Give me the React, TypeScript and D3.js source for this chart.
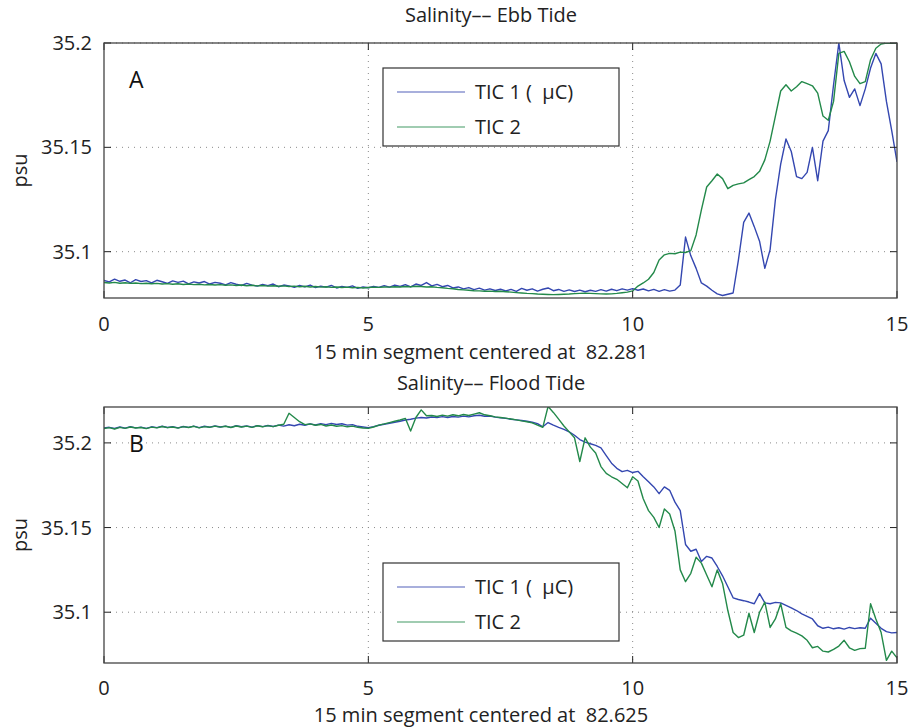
import React from "react";
import * as d3 from "d3";

// time grid (minutes), sampled every 0.1 min
const timeMin = d3.range(0, 15.0001, 0.1).map((v) => Math.round(v * 10) / 10);

const xTicks = [0, 5, 10, 15];
const yTicks = [35.1, 35.15, 35.2];
const seriesNames = ["TIC 1 (\u00A0\u00A0\u03BCC)", "TIC 2"];

// Panel A — Ebb tide
const ebbTic1 = [
  35.0862, 35.0855, 35.0868, 35.0858, 35.0864, 35.0851, 35.0866, 35.0857, 35.0861, 35.085,
  35.0863, 35.0856, 35.0848, 35.086, 35.0853, 35.0859, 35.0846, 35.0855, 35.085, 35.0857,
  35.0845, 35.0853, 35.0849, 35.0841, 35.0852, 35.0844, 35.0838, 35.0848, 35.084, 35.0835,
  35.0843, 35.0837, 35.0845, 35.0832, 35.084, 35.0836, 35.0829, 35.0838, 35.0831, 35.084,
  35.0828, 35.0835, 35.083, 35.0838, 35.0826, 35.0833, 35.0829, 35.0836, 35.0824, 35.0831,
  35.0827, 35.0834, 35.0829, 35.0837, 35.083, 35.084, 35.0833, 35.0842, 35.0831, 35.0845,
  35.0838, 35.0852, 35.0836, 35.0843, 35.0832, 35.0838, 35.0826, 35.0831, 35.0822, 35.0828,
  35.0818, 35.0825, 35.0816, 35.0822, 35.0814, 35.082, 35.0812, 35.0819, 35.081, 35.0824,
  35.0815, 35.0822, 35.0811, 35.082, 35.0826, 35.0813, 35.0819, 35.081, 35.0817, 35.0809,
  35.0816, 35.0808, 35.0815, 35.081, 35.0818, 35.0811, 35.082, 35.0813, 35.0822, 35.0816,
  35.0823, 35.0815, 35.0821, 35.0812, 35.0819, 35.081, 35.0818, 35.0811, 35.0816, 35.084,
  35.107, 35.098, 35.092, 35.085, 35.0835, 35.0815, 35.0798, 35.079, 35.0796, 35.0802,
  35.096, 35.114, 35.1185, 35.112, 35.105, 35.092, 35.101, 35.125, 35.142, 35.154,
  35.148, 35.136, 35.135, 35.138, 35.15, 35.134, 35.153, 35.158, 35.18, 35.2,
  35.182, 35.174, 35.178, 35.17, 35.178, 35.188, 35.195, 35.19, 35.172, 35.158,
  35.143,
];
const ebbTic2 = [
  35.0852, 35.085, 35.0853, 35.0849, 35.0851, 35.0848, 35.085, 35.0847, 35.0849, 35.0846,
  35.0848, 35.0845, 35.0847, 35.0844, 35.0846, 35.0843, 35.0845, 35.0842, 35.0844, 35.0841,
  35.0843, 35.084, 35.0842, 35.0839, 35.0841, 35.0838, 35.084, 35.0837, 35.0839, 35.0836,
  35.0838, 35.0835, 35.0837, 35.0834, 35.0836, 35.0833, 35.0835, 35.0832, 35.0834, 35.0831,
  35.0833, 35.083, 35.0832, 35.0829, 35.0831, 35.0828, 35.083, 35.0827, 35.0829, 35.0826,
  35.0828, 35.083, 35.0829, 35.0831, 35.083, 35.0832, 35.0831, 35.0833, 35.0832, 35.0834,
  35.0833, 35.0831, 35.0832, 35.0829, 35.0827, 35.0824, 35.0822, 35.0819, 35.0817, 35.0815,
  35.0813, 35.0812, 35.081, 35.0811, 35.0809, 35.081, 35.0808, 35.0806, 35.0804, 35.0802,
  35.08, 35.0799, 35.0797, 35.0796, 35.0795, 35.0794, 35.0795, 35.0796, 35.0797, 35.0799,
  35.08, 35.0801, 35.08, 35.0799, 35.0798, 35.0797, 35.0798, 35.08, 35.0803, 35.0806,
  35.0812, 35.0835, 35.085, 35.0868, 35.09, 35.096, 35.0985, 35.0992, 35.099, 35.0998,
  35.0996, 35.1005, 35.108, 35.12, 35.131, 35.134, 35.1372, 35.135, 35.1302, 35.1318,
  35.1325, 35.133, 35.1345, 35.136, 35.1385, 35.144, 35.153, 35.165, 35.177, 35.18,
  35.177, 35.179, 35.1815, 35.1805, 35.1795, 35.176, 35.165, 35.163, 35.172, 35.195,
  35.196, 35.191, 35.184, 35.1805, 35.1815, 35.192, 35.1975, 35.1995, 35.2, 35.1998,
  35.2,
];

// Panel B — Flood tide
const floodTic1 = [
  35.2088, 35.2092, 35.2085, 35.2094, 35.2087, 35.2096, 35.2089, 35.2093, 35.2086, 35.2095,
  35.209, 35.2098, 35.2091, 35.2096, 35.2089, 35.2097, 35.2092, 35.2099, 35.209, 35.2098,
  35.2093, 35.21, 35.2094, 35.2099, 35.2092, 35.2101, 35.2095, 35.21, 35.2093, 35.2102,
  35.2096, 35.2103, 35.2097, 35.2105, 35.2099, 35.2107, 35.2101, 35.211, 35.2104, 35.2112,
  35.2106, 35.2114, 35.2108, 35.2115, 35.2109, 35.2113, 35.2105, 35.2108, 35.2098, 35.2094,
  35.209, 35.2096, 35.2104, 35.211, 35.2116, 35.2122, 35.2128, 35.2135, 35.214, 35.2146,
  35.215, 35.2147, 35.2153, 35.2149, 35.2155, 35.215, 35.2156, 35.2152, 35.2158, 35.2154,
  35.216, 35.2163, 35.2157, 35.2159, 35.2152, 35.2148, 35.2145, 35.214, 35.2136, 35.2132,
  35.2128, 35.2122, 35.2114, 35.2095, 35.212, 35.2105, 35.2092, 35.208, 35.2065, 35.2045,
  35.202, 35.2005, 35.1995, 35.1985, 35.197, 35.1925, 35.188, 35.185, 35.183, 35.1838,
  35.1825, 35.1832, 35.18, 35.177, 35.174, 35.17, 35.174, 35.172, 35.165, 35.16,
  35.14, 35.136, 35.1372, 35.13, 35.133, 35.132, 35.127, 35.1215, 35.115, 35.1085,
  35.1075, 35.1068, 35.106, 35.105, 35.111, 35.1055, 35.105, 35.1058, 35.1055, 35.104,
  35.1025, 35.101, 35.099, 35.0975, 35.096, 35.092, 35.0905, 35.0912, 35.0902, 35.0908,
  35.09, 35.091, 35.0903, 35.0908, 35.0905, 35.0965, 35.0935, 35.0905, 35.0885, 35.0878,
  35.088,
];
const floodTic2 = [
  35.2085, 35.209, 35.2082, 35.2092, 35.2086, 35.2094, 35.2088, 35.2091, 35.2084, 35.2093,
  35.2089, 35.2097, 35.209, 35.2094, 35.2087, 35.2096, 35.2091, 35.2098, 35.2089, 35.2096,
  35.2092, 35.2099, 35.2093, 35.2098, 35.2091, 35.21, 35.2094, 35.2099, 35.2092, 35.2101,
  35.2095, 35.2102, 35.2096, 35.2104, 35.211, 35.2175, 35.215, 35.2125, 35.2108, 35.2112,
  35.2104, 35.2109, 35.21, 35.2106, 35.2098, 35.2102, 35.2095, 35.2099, 35.2092, 35.2088,
  35.2086, 35.2094, 35.2105, 35.2112, 35.212, 35.2128, 35.2135, 35.2145, 35.207, 35.215,
  35.2195, 35.216, 35.2162, 35.2156, 35.2164, 35.2158, 35.2166, 35.216, 35.2168, 35.2162,
  35.217, 35.2178, 35.2166, 35.216, 35.2154, 35.215, 35.2146, 35.2141, 35.2136, 35.213,
  35.2125, 35.2118, 35.2105, 35.2092, 35.2215, 35.218, 35.214, 35.21, 35.2065, 35.203,
  35.189, 35.203, 35.1975, 35.194, 35.186, 35.182, 35.18, 35.1785, 35.176, 35.1735,
  35.18, 35.1775, 35.167, 35.16, 35.156, 35.15, 35.161, 35.158, 35.148, 35.125,
  35.118, 35.123, 35.1325, 35.129, 35.122, 35.115, 35.125, 35.117, 35.101, 35.088,
  35.085, 35.0864, 35.0994, 35.088, 35.1, 35.106, 35.091, 35.096, 35.105, 35.091,
  35.089, 35.0876, 35.086, 35.0834, 35.079, 35.0798, 35.077, 35.0765, 35.078, 35.08,
  35.0834, 35.079, 35.0775, 35.0785, 35.0787, 35.105, 35.096, 35.088, 35.0716, 35.077,
  35.073,
];

const BLUE = "#3447b0";
const GREEN = "#23894a";
const FONT = "'Open Sans', 'DejaVu Sans', sans-serif";
const FS = 20;

type PanelProps = {
  id: string;
  top: number;
  bottom: number;
  domain: [number, number];
  title: string;
  titleY: number;
  xlabel: string;
  xlabelY: number;
  tickLabelY: number;
  letter: string;
  s1: number[];
  s2: number[];
  legendTop: number;
};

const LEFT = 104;
const RIGHT = 897;

function Panel(p: PanelProps) {
  const x = d3.scaleLinear().domain([0, 15]).range([LEFT, RIGHT]);
  const y = d3.scaleLinear().domain(p.domain).range([p.bottom, p.top]);
  const line = d3
    .line<number>()
    .x((_, i) => x(timeMin[i]))
    .y((d) => y(d));
  const tickLen = 7;
  const legendLeft = 383;
  const legendW = 236;
  const legendH = 78;
  return (
    <g>
      <defs>
        <clipPath id={`clip-${p.id}`}>
          <rect x={LEFT} y={p.top} width={RIGHT - LEFT} height={p.bottom - p.top} />
        </clipPath>
      </defs>
      <rect x={LEFT} y={p.top} width={RIGHT - LEFT} height={p.bottom - p.top} fill="#fff" />
      {/* grid */}
      {xTicks.slice(1, -1).map((t) => (
        <line key={`gx${t}`} x1={x(t)} x2={x(t)} y1={p.top} y2={p.bottom} stroke="#8a8a8a" strokeWidth={1} strokeDasharray="1,5" />
      ))}
      {yTicks.map((t) => (
        <line key={`gy${t}`} x1={LEFT} x2={RIGHT} y1={y(t)} y2={y(t)} stroke="#8a8a8a" strokeWidth={1} strokeDasharray="1,5" />
      ))}
      {/* data */}
      <g clipPath={`url(#clip-${p.id})`}>
        <path d={line(p.s1) || ""} fill="none" stroke={BLUE} strokeWidth={1.4} strokeLinejoin="round" />
        <path d={line(p.s2) || ""} fill="none" stroke={GREEN} strokeWidth={1.4} strokeLinejoin="round" />
      </g>
      {/* ticks */}
      {xTicks.map((t) => (
        <g key={`tx${t}`}>
          <line x1={x(t)} x2={x(t)} y1={p.bottom} y2={p.bottom - tickLen} stroke="#222" />
          <line x1={x(t)} x2={x(t)} y1={p.top} y2={p.top + tickLen} stroke="#222" />
          <text x={x(t)} y={p.tickLabelY} textAnchor="middle" fontSize={FS} fill="#222" fontFamily={FONT}>
            {t}
          </text>
        </g>
      ))}
      {yTicks.map((t) => (
        <g key={`ty${t}`}>
          <line x1={LEFT} x2={LEFT + tickLen} y1={y(t)} y2={y(t)} stroke="#222" />
          <line x1={RIGHT} x2={RIGHT - tickLen} y1={y(t)} y2={y(t)} stroke="#222" />
          <text x={92} y={y(t) + 7} textAnchor="end" fontSize={FS} fill="#222" fontFamily={FONT}>
            {String(t)}
          </text>
        </g>
      ))}
      <rect x={LEFT} y={p.top} width={RIGHT - LEFT} height={p.bottom - p.top} fill="none" stroke="#444" strokeWidth={1.3} />
      {/* labels */}
      <text x={491} y={p.titleY} textAnchor="middle" fontSize={FS} fill="#222" fontFamily={FONT}>
        {p.title}
      </text>
      <text x={481} y={p.xlabelY} textAnchor="middle" fontSize={FS} fill="#222" fontFamily={FONT}>
        {p.xlabel}
      </text>
      <text
        transform={`translate(27,${(p.top + p.bottom) / 2}) rotate(-90)`}
        textAnchor="middle"
        fontSize={FS}
        fill="#222"
        fontFamily={FONT}
      >
        psu
      </text>
      <text x={129} y={p.top + 45} fontSize={23} fill="#111" fontFamily={FONT}>
        {p.letter}
      </text>
      {/* legend */}
      <g>
        <rect x={legendLeft} y={p.legendTop} width={legendW} height={legendH} fill="#fff" stroke="#333" strokeWidth={1.2} />
        {seriesNames.map((n, i) => {
          const ry = p.legendTop + 24 + i * 35;
          return (
            <g key={n}>
              <line x1={legendLeft + 14} x2={legendLeft + 82} y1={ry} y2={ry} stroke={i === 0 ? BLUE : GREEN} strokeWidth={1.2} opacity={0.85} />
              <text x={legendLeft + 92} y={ry + 7} fontSize={FS} fill="#222" fontFamily={FONT}>
                {n}
              </text>
            </g>
          );
        })}
      </g>
    </g>
  );
}

export default function App() {
  return (
    <svg width={909} height={727} style={{ position: "absolute", left: 0, top: 0, background: "#fff" }}>
      <rect x={0} y={0} width={909} height={727} fill="#fff" />
      <Panel
        id="a"
        top={43}
        bottom={298}
        domain={[35.0778, 35.2]}
        title={"Salinity\u2013\u2013 Ebb Tide"}
        titleY={22}
        xlabel={"15 min segment centered at\u00A0\u00A082.281"}
        xlabelY={359}
        tickLabelY={331}
        letter="A"
        s1={ebbTic1}
        s2={ebbTic2}
        legendTop={68}
      />
      <Panel
        id="b"
        top={407}
        bottom={663}
        domain={[35.07, 35.2212]}
        title={"Salinity\u2013\u2013 Flood Tide"}
        titleY={390}
        xlabel={"15 min segment centered at\u00A0\u00A082.625"}
        xlabelY={722}
        tickLabelY={695}
        letter="B"
        s1={floodTic1}
        s2={floodTic2}
        legendTop={563}
      />
    </svg>
  );
}
